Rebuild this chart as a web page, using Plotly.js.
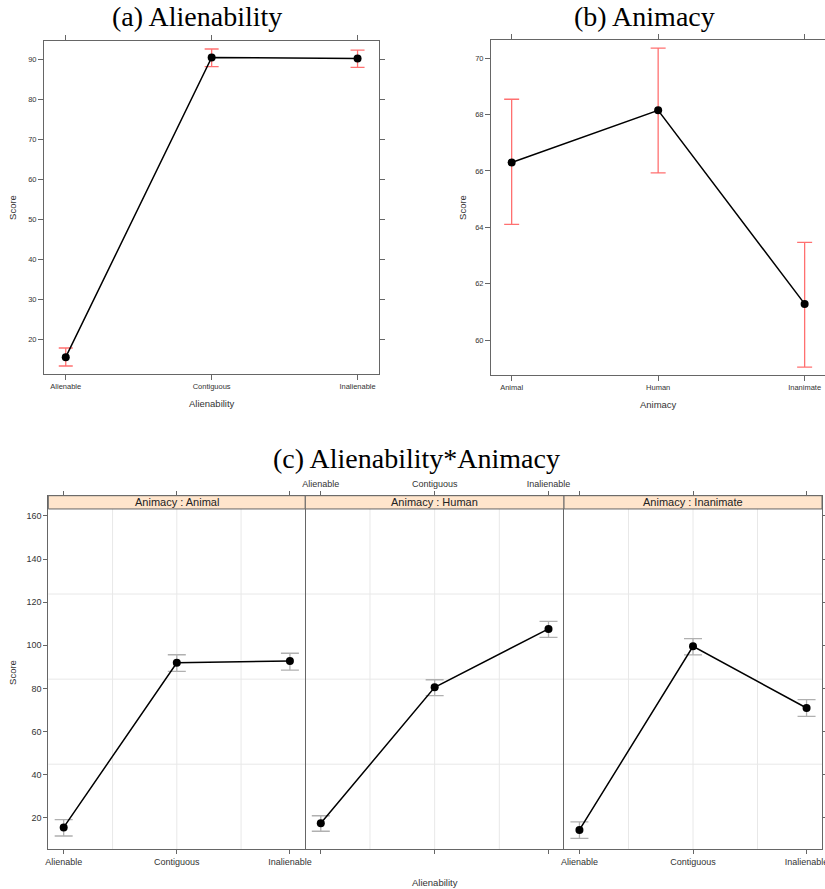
<!DOCTYPE html>
<html><head><meta charset="utf-8">
<script src="https://cdn.plot.ly/plotly-3.0.1.min.js"></script>
<style>html,body{margin:0;padding:0;background:#fff}</style>
</head><body>
<div id="chart" style="width:825px;height:889px"></div>
<script>
// ---------- data ----------
const alienCats = ["Alienable", "Contiguous", "Inalienable"];
const animCats = ["Animal", "Human", "Inanimate"];

// (a) Alienability main effect
const alienScore = [15.5, 90.4, 90.1];
const alienUpper = [17.8, 92.5, 92.2];
const alienLower = [13.3, 88.1, 87.9];

// (b) Animacy main effect
const animScore = [66.3, 68.15, 61.29];
const animUpper = [68.54, 70.35, 63.47];
const animLower = [64.11, 65.93, 59.05];

// (c) interaction, one series per Animacy panel
const animalScore = [15.5, 91.9, 92.7];
const animalUpper = [19.1, 95.6, 96.3];
const animalLower = [11.5, 87.9, 88.5];
const humanScore = [17.4, 80.5, 107.6];
const humanUpper = [20.9, 84.0, 111.1];
const humanLower = [13.7, 76.6, 103.7];
const inanimScore = [14.3, 99.5, 70.9];
const inanimUpper = [18.1, 103.1, 74.8];
const inanimLower = [10.4, 95.5, 67.0];

const yTicksA = [20, 30, 40, 50, 60, 70, 80, 90];
const yTicksB = [60, 62, 64, 66, 68, 70];
const yTicksC = [20, 40, 60, 80, 100, 120, 140, 160];

// ---------- helpers ----------
const W = 825, H = 889;
const fx = p => p / W;
const fy = p => 1 - p / H;
const up = (v, u) => u.map((x, i) => x - v[i]);
const dn = (v, l) => v.map((x, i) => x - l[i]);

function tr(x, y, u, l, xa, ya, ecol, ew) {
  return {
    type: "scatter", mode: "lines+markers", x: x, y: y, xaxis: xa, yaxis: ya,
    line: {color: "#000", width: 1.5},
    marker: {color: "#000", size: 8},
    error_y: {type: "data", symmetric: false, array: up(y, u), arrayminus: dn(y, l),
              color: ecol, thickness: 1.3, width: ew},
    showlegend: false, hoverinfo: "x+y"
  };
}
const red = "#ff7070", grey = "#b0b0b0";
const data = [
  tr(alienCats, alienScore, alienUpper, alienLower, "x", "y", red, 7),
  tr(animCats, animScore, animUpper, animLower, "x2", "y2", red, 7.5),
  tr(alienCats, animalScore, animalUpper, animalLower, "x3", "y3", grey, 9),
  tr(alienCats, humanScore, humanUpper, humanLower, "x4", "y4", grey, 9),
  tr(alienCats, inanimScore, inanimUpper, inanimLower, "x5", "y5", grey, 9)
];

const axCol = "#666";
const tickFontAB = {family: "Liberation Sans, Arial, sans-serif", size: 7.5, color: "#333"};
const tickFontC = {family: "Liberation Sans, Arial, sans-serif", size: 9, color: "#333"};
const titleFont = {family: "Liberation Sans, Arial, sans-serif", size: 9.5, color: "#333"};
const base = {showline: true, linecolor: axCol, linewidth: 1.3, ticks: "outside", ticklen: 5,
              tickcolor: axCol, tickwidth: 1, showgrid: false, zeroline: false, fixedrange: true};
const baseC = Object.assign({}, base, {linewidth: 1});

// (c) y range including strip
const cLo = 5.33, cHi = 169.4, cPlotTop = 163.25;
const stripFrac = (cPlotTop - cLo) / (cHi - cLo);

const cxDom = [[48.3, 305.3], [305.3, 564], [564, 822]];

const layout = {
  width: W, height: H, margin: {l: 0, r: 0, t: 0, b: 0},
  paper_bgcolor: "#fff", plot_bgcolor: "#fff",
  showlegend: false,
  xaxis: Object.assign({}, base, {domain: [fx(44.3), fx(379)], anchor: "y", type: "category",
    range: [-0.147, 2.147], mirror: "ticks", tickfont: tickFontAB,
    title: {text: "Alienability", font: titleFont, standoff: 10}}),
  yaxis: Object.assign({}, base, {domain: [fy(374), fy(41)], anchor: "x", range: [11.3, 94.5],
    tickvals: yTicksA, mirror: "ticks", tickfont: tickFontAB,
    title: {text: "Score", font: titleFont, standoff: 9}}),
  xaxis2: Object.assign({}, base, {domain: [fx(491.3), 1], anchor: "y2", type: "category",
    range: [-0.139, 2.139], mirror: "ticks", tickfont: tickFontAB,
    title: {text: "Animacy", font: titleFont, standoff: 10}}),
  yaxis2: Object.assign({}, base, {domain: [fy(375), fy(40)], anchor: "x2", range: [58.77, 70.64],
    tickvals: yTicksB, mirror: "ticks", tickfont: tickFontAB,
    title: {text: "Score", font: titleFont, standoff: 6}}),
  xaxis3: Object.assign({}, baseC, {domain: [fx(cxDom[0][0]), fx(cxDom[0][1])], anchor: "y3", type: "category",
    range: [-0.136, 2.136], mirror: "ticks", ticklen: 4, tickfont: tickFontC}),
  yaxis3: Object.assign({}, baseC, {domain: [fy(849.3), fy(495.7)], anchor: "x3", range: [cLo, cHi],
    tickvals: yTicksC, mirror: true, ticklen: 4, tickfont: tickFontC,
    title: {text: "Score", font: titleFont, standoff: 8}}),
  xaxis4: Object.assign({}, baseC, {domain: [fx(cxDom[1][0]), fx(cxDom[1][1])], anchor: "y4", type: "category",
    range: [-0.136, 2.136], side: "top", mirror: "ticks", ticklen: 4, tickfont: tickFontC}),
  yaxis4: Object.assign({}, baseC, {domain: [fy(849.3), fy(495.7)], anchor: "x4", range: [cLo, cHi],
    ticks: "", showticklabels: false, showline: false}),
  xaxis5: Object.assign({}, baseC, {domain: [fx(cxDom[2][0]), fx(cxDom[2][1])], anchor: "y5", type: "category",
    range: [-0.136, 2.136], mirror: "ticks", ticklen: 4, tickfont: tickFontC}),
  yaxis5: Object.assign({}, baseC, {domain: [fy(849.3), fy(495.7)], anchor: "x5", range: [cLo, cHi],
    tickvals: yTicksC, side: "right", showticklabels: false, mirror: true, ticklen: 4}),
  shapes: [],
  annotations: []
};

// grid lines and strips for (c)
const panelNames = ["Animal", "Human", "Inanimate"];
[3, 4, 5].forEach((n, i) => {
  const xr = "x" + n + " domain", yr = "y" + n + " domain";
  [0.25, 0.5, 0.75].forEach(f => {
    layout.shapes.push({type: "line", layer: "below", xref: xr, yref: yr, x0: f, x1: f, y0: 0, y1: stripFrac,
      line: {color: "#e8e8e8", width: 1}});
    layout.shapes.push({type: "line", layer: "below", xref: xr, yref: yr, x0: 0, x1: 1,
      y0: f * stripFrac, y1: f * stripFrac, line: {color: "#e8e8e8", width: 1}});
  });
  layout.shapes.push({type: "rect", layer: "above", xref: xr, yref: yr, x0: 0, x1: 1, y0: stripFrac, y1: 1,
    fillcolor: "#ffe5cc", line: {color: axCol, width: 1}});
  layout.annotations.push({xref: xr, yref: yr, x: 0.5, y: (stripFrac + 1) / 2, xanchor: "center", yanchor: "middle",
    text: "Animacy : " + panelNames[i], showarrow: false,
    font: {family: "Liberation Sans, Arial, sans-serif", size: 11, color: "#222"}});
});

// panel titles
const serif = {family: "Liberation Serif, Times New Roman, serif", size: 28, color: "#000"};
layout.annotations.push({xref: "paper", yref: "paper", x: fx(196.5), y: fy(17), xanchor: "center", yanchor: "middle",
  text: "(a) Alienability", showarrow: false, font: serif});
layout.annotations.push({xref: "paper", yref: "paper", x: fx(644.6), y: fy(17), xanchor: "center", yanchor: "middle",
  text: "(b) Animacy", showarrow: false, font: serif});
layout.annotations.push({xref: "paper", yref: "paper", x: fx(416), y: fy(459), xanchor: "center", yanchor: "middle",
  text: "(c) Alienability*Animacy", showarrow: false, font: serif});
// shared x title for (c)
layout.annotations.push({xref: "paper", yref: "paper", x: fx(434.6), y: fy(882), xanchor: "center", yanchor: "middle",
  text: "Alienability", showarrow: false, font: titleFont});

Plotly.newPlot("chart", data, layout, {displayModeBar: false, staticPlot: true});
</script>
</body></html>
